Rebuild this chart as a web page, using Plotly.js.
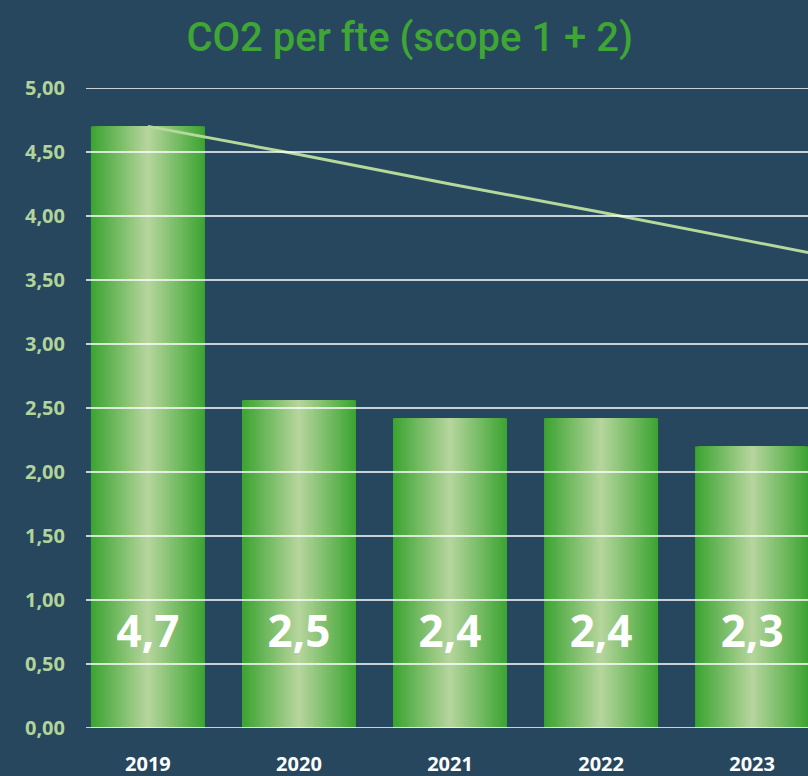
<!DOCTYPE html>
<html>
<head>
<meta charset="utf-8">
<script src="https://cdn.plot.ly/plotly-3.0.1.min.js"></script>
<style>
  html, body { margin: 0; padding: 0; background: #26475e; }
  #chart { width: 808px; height: 776px; }
</style>
</head>
<body>
<div id="chart"></div>
<script>
// ---- data ----
const years = ['2019', '2020', '2021', '2022', '2023'];
const co2PerFte = [4.70, 2.56, 2.42, 2.42, 2.20];
const barLabels = ['4,7', '2,5', '2,4', '2,4', '2,3'];
const trendYears = ['2019', '2020', '2021', '2022', '2023', '2024'];
const trendValues = [4.70, 4.48, 4.25, 4.03, 3.80, 3.57];
const yTickVals = [0, 0.5, 1, 1.5, 2, 2.5, 3, 3.5, 4, 4.5, 5];
const yTickText = ['0,00', '0,50', '1,00', '1,50', '2,00', '2,50', '3,00', '3,50', '4,00', '4,50', '5,00'];

// ---- style ----
const BG = '#26475e';
const EDGE = [60, 164, 50];
const CENTER = [181, 213, 156];
const BAR_W = 0.755;
const STEPS = 32;
const LABEL_Y = 0.72;

function mix(a, b, t) {
  return 'rgb(' + a.map((v, i) => Math.round(v + (b[i] - v) * t)).join(',') + ')';
}

const traces = [];
// nested centered bars => horizontal gradient (dark edges, light center)
for (let i = 0; i < STEPS; i++) {
  traces.push({
    type: 'bar',
    x: years,
    y: co2PerFte,
    width: BAR_W * (1 - i / STEPS),
    marker: { color: mix(EDGE, CENTER, i / (STEPS - 1)), line: { width: 0 } },
    hoverinfo: 'skip',
    showlegend: false
  });
}
traces.push({
  type: 'scatter',
  mode: 'lines',
  x: trendYears,
  y: trendValues,
  line: { color: '#b5d89b', width: 3 },
  hoverinfo: 'skip',
  showlegend: false
});
traces.push({
  type: 'scatter',
  mode: 'text',
  x: years,
  y: years.map(() => LABEL_Y),
  text: barLabels,
  textposition: 'middle center',
  textfont: { family: 'Open Sans', size: 44, color: '#ffffff', weight: 'bold' },
  hoverinfo: 'skip',
  showlegend: false,
  cliponaxis: false
});

const shapes = yTickVals.map(v => ({
  type: 'line', xref: 'paper', yref: 'y',
  x0: 0, x1: 1, y0: v, y1: v,
  line: { color: '#ffffff', width: 1.3 },
  layer: 'above'
}));

const layout = {
  width: 808, height: 776,
  paper_bgcolor: BG, plot_bgcolor: BG,
  margin: { l: 86, r: 0, t: 88, b: 48 },
  barmode: 'overlay',
  title: {
    text: 'CO2 per fte (scope 1 + 2)',
    font: { family: 'Roboto', size: 40, color: '#3fa535', weight: 500 },
    x: 0.507, xanchor: 'center', y: 0.952, yanchor: 'middle'
  },
  xaxis: {
    type: 'category',
    categoryorder: 'array', categoryarray: trendYears,
    range: [-0.41, 4.37],
    showgrid: false, zeroline: false, showline: false,
    ticks: 'outside', ticklen: 18, tickcolor: BG,
    tickfont: { family: 'Open Sans', size: 20, color: '#ffffff', weight: 'bold' }
  },
  yaxis: {
    range: [0, 5],
    tickvals: yTickVals, ticktext: yTickText,
    showgrid: false, zeroline: false, showline: false,
    ticks: 'outside', ticklen: 16, tickcolor: BG,
    tickfont: { family: 'Open Sans', size: 20, color: '#b3d39b', weight: 'bold' }
  },
  shapes: shapes
};

Plotly.newPlot('chart', traces, layout, { staticPlot: true, displayModeBar: false });
</script>
</body>
</html>
